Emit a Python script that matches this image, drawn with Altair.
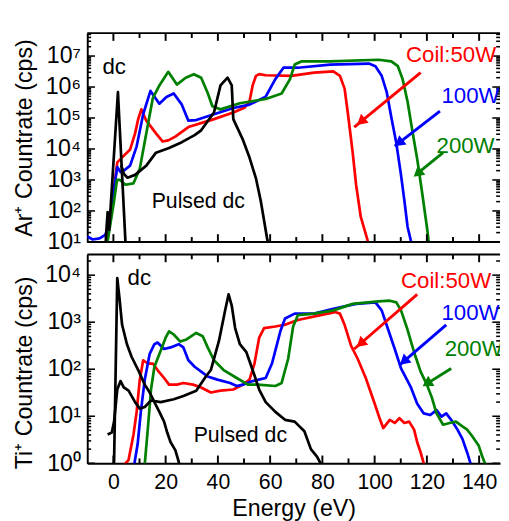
import math
import altair as alt
import pandas as pd

FONT = "Liberation Sans, Arial, Helvetica, sans-serif"
W = 427
H = 216
X_DOMAIN = [-10, 148]
AR_DOMAIN = [10, 5.5e7]
TI_DOMAIN = [1, 2.75e4]

RED, BLUE, GREEN, BLACK = "#ff0000", "#0000ff", "#008000", "#000000"

# ---------------- Ar+ panel data (energy eV, countrate cps) ----------------
ar_dc_e = [-3.0, -2.6, -2.2, -1.6, 1.74, 4.6, 4.9]
ar_dc_c = [8, 30, 92, 25, 6.8e5, 10.7, 8]

ar_pulsed_e = [3.0, 4.0, 5.4, 8.3, 12.6, 16.3, 21.3, 26.2, 31.1, 33.6, 38.5, 41.0, 43.7,
               45.3, 45.9, 49.6, 52.1, 54.6, 56.4, 58.9, 59.5]
ar_pulsed_c = [3.0e3, 1.57e3, 1.18e3, 1.46e3, 2.9e3, 7.6e3, 1.08e4, 1.66e4, 2.8e4, 4.0e4,
               1.5e5, 1.13e6, 2.0e6, 1.13e6, 9.2e4, 1.96e4, 5.3e3, 1.1e3, 212, 12, 8]

ar_red_e = [-2.6, -2.2, 1.48, 2.7, 6.4, 8.3, 9.5, 10.7, 12.6, 16.3, 18.8, 21.0, 23.7, 28.7,
            38.5, 45.9, 50.3, 52.1, 53.3, 54.6, 55.8, 58.3, 68.1, 76.8, 84.2, 86.7, 88.5,
            89.8, 91.6, 92.9, 94.7, 97.2, 97.6]
ar_red_c = [8, 12, 3.7e3, 4.7e3, 9.6e3, 3.2e4, 9.2e4, 1.9e5, 8.2e4, 3.2e4, 1.75e4, 1.9e4,
            2.5e4, 5.1e4, 9.2e4, 1.5e5, 2.2e5, 3.4e5, 1.13e6, 2.3e6, 2.6e6, 2.4e6, 2.3e6,
            2.9e6, 3.2e6, 2.3e6, 8.9e5, 1.32e5, 7.6e3, 700, 64, 12, 8]

ar_blue_e = [-10, -7.9, -5.3, -3.1, -1.96, 1.48, 2.7, 4.3, 6.4, 8.9, 11.4, 14.2, 17.6, 20.3,
             23.1, 26.2, 28.7, 31.7, 38.5, 45.9, 52.1, 58.3, 62.0, 65.1, 70.6, 83.0, 97.8,
             100.3, 102.7, 104.6, 106.4, 108.3, 110.1, 111.4, 112.6, 113.9, 114.3]
ar_blue_c = [15, 12, 13, 17, 29, 2.6e3, 1.8e3, 2.1e3, 2.9e3, 1.22e4, 1.32e5, 7.5e5, 2.9e5,
             4.8e5, 6.2e5, 2.7e5, 8.2e4, 8.6e4, 1.32e5, 2.1e5, 2.7e5, 4.9e5, 1.8e6, 4.2e6,
             4.2e6, 5.3e6, 5.7e6, 4.7e6, 2.3e6, 7.0e5, 1.04e5, 1.55e4, 1.43e3, 212, 31, 10.7, 8]

ar_green_e = [-2.6, -2.2, 0.26, 1.37, 2.5, 4.6, 7.7, 10.1, 12.6, 15.1, 17.6, 21.0, 24.3, 27.7,
              30.8, 33.6, 36.1, 37.9, 41.0, 48.4, 58.3, 64.4, 67.6, 69.4, 71.9, 82.9, 101.5,
              106.4, 108.9, 110.7, 112.6, 114.4, 116.3, 118.1, 120.0, 120.6, 121.0]
ar_green_c = [8, 10.7, 212, 1.0e3, 1.0e3, 700, 780, 2.3e3, 3.2e4, 4.4e5, 1.13e6, 3.1e6, 1.2e6,
              2.0e6, 2.6e6, 2.0e6, 6.4e5, 2.4e5, 1.9e5, 3.0e5, 4.1e5, 6.2e5, 1.8e6, 5.3e6,
              6.7e6, 6.7e6, 7.6e6, 6.7e6, 4.7e6, 1.8e6, 3.4e5, 4.0e4, 4.7e3, 434, 31, 12, 8]

# ---------------- Ti+ panel data ----------------
ti_dc_e = [-0.3, 0.26, 1.48, 2.37, 3.33, 5.19, 7.0, 9.5, 12.0, 13.9, 15.7, 17.6, 19.4, 20.6,
           21.9, 23.7, 25.0, 25.3]
ti_dc_c = [0.8, 1.08, 8.6e3, 3.1e3, 880, 340, 182, 96, 47, 32, 20, 12.4, 7.7, 4.5, 2.8, 1.9,
           1.08, 0.85]

ti_pulsed_e = [-2.2, -0.6, 0.26, 1.48, 2.74, 3.96, 5.81, 8.3, 10.1, 12.0, 14.4, 18.1, 23.1,
               26.8, 31.7, 35.4, 37.3, 40.4, 42.9, 44.1, 45.3, 46.6, 48.4, 50.9, 53.3, 55.8,
               58.3, 62.0, 65.7, 69.4, 73.1, 75.6, 78.0, 79.3, 79.6]
ti_pulsed_c = [4.1, 4.5, 7.7, 37, 56, 41, 35, 20, 14.5, 15.7, 21.6, 20, 23, 27, 35, 70, 96,
               400, 1.93e3, 3.9e3, 2.25e3, 750, 340, 230, 96, 37, 20, 12.4, 8.4, 7.7, 4.8,
               2.0, 1.37, 1.0, 0.85]

ti_red_e = [3.96, 5.8, 7.7, 8.9, 10.1, 11.4, 13.2, 15.1, 16.9, 19.4, 21.3, 24.3, 26.8, 30.5,
            33.6, 37.3, 41.0, 45.9, 49.6, 52.1, 54.0, 55.8, 57.7, 62.0, 65.7, 70.6, 79.3,
            84.8, 86.7, 88.5, 91.0, 93.5, 96.6, 99.6, 102.1, 103.3, 105.8, 107.7, 109.5,
            111.4, 113.2, 115.1, 116.3, 117.6, 118.8, 119.1]
ti_red_c = [0.92, 1.17, 4.1, 12.4, 60, 155, 132, 132, 96, 65, 47, 47, 51, 47, 41, 32, 35, 37,
            47, 60, 132, 467, 750, 810, 880, 1.11e3, 1.41e3, 1.64e3, 1.52e3, 880, 314, 167,
            65, 21.6, 8.4, 5.6, 8.4, 7.2, 9.1, 7.2, 7.7, 5.2, 2.8, 1.7, 1.0, 0.85]

ti_blue_e = [7.7, 8.0, 9.3, 10.5, 12.0, 13.9, 15.7, 16.9, 19.4, 21.9, 25.0, 26.8, 28.7, 31.1,
             33.6, 36.1, 39.8, 44.7, 47.2, 49.6, 53.3, 58.3, 60.7, 63.9, 65.7, 69.4, 76.8,
             84.2, 92.9, 100.3, 102.7, 105.2, 107.7, 110.1, 113.9, 116.3, 118.8, 121.3,
             123.7, 125.6, 127.4, 129.3, 131.7, 133.6, 135.4, 136.7, 136.9]
ti_blue_c = [0.85, 0.95, 2.6, 12.4, 60, 212, 340, 369, 269, 291, 340, 291, 155, 113, 89, 70,
             60, 51, 44, 47, 56, 65, 132, 640, 1.2e3, 1.52e3, 1.52e3, 1.93e3, 2.45e3, 2.64e3,
             1.78e3, 690, 269, 104, 41, 18.4, 11.5, 10.6, 13.5, 9.8, 11.5, 8.4, 5.2, 3.3, 1.7,
             1.0, 0.85]

ti_green_e = [11.7, 12.0, 13.2, 14.4, 15.7, 18.1, 20.0, 21.3, 23.1, 25.6, 28.0, 31.7, 34.2,
              36.1, 38.5, 42.2, 47.2, 51.5, 55.2, 62.0, 64.4, 66.9, 68.8, 70.6, 76.8, 84.2,
              91.6, 101.5, 105.8, 108.3, 110.1, 112.6, 115.1, 117.6, 120.0, 121.9, 123.7,
              126.2, 128.7, 131.1, 133.6, 135.4, 137.3, 139.8, 141.0, 142.2, 142.5]
ti_green_c = [0.85, 0.95, 5.6, 37, 113, 248, 467, 640, 547, 387, 430, 590, 504, 291, 155, 96,
              65, 47, 47, 44, 51, 167, 810, 1.41e3, 1.52e3, 1.78e3, 2.45e3, 2.77e3, 2.86e3,
              2.64e3, 1.78e3, 690, 230, 89, 47, 25, 11.5, 6.6, 7.2, 7.7, 6.1, 5.2, 3.8, 2.4,
              1.5, 1.0, 0.85]

# ---------------- annotations ----------------
ar_text = ["dc", "Pulsed dc", "Coil:50W", "100W", "200W"]
ar_text_e = [0.3, 32.5, 112.0, 125.6, 123.7]
ar_text_c = [4.2e6, 212, 1.09e7, 4.9e5, 1.22e4]
ti_text = ["dc", "Pulsed dc", "Coil:50W", "100W", "200W"]
ti_text_e = [9.9, 48.6, 110.1, 125.6, 126.8]
ti_text_c = [8.6e3, 3.9, 7.4e3, 1.52e3, 269]
text_colors = [BLACK, BLACK, RED, BLUE, GREEN]
text_align = ["center", "center", "left", "left", "left"]

arrow_colors = [RED, BLUE, GREEN]
ar_arrow_start_e = [117.6, 125.0, 126.2]
ar_arrow_start_c = [2.94e6, 1.67e5, 7.6e3]
ar_arrow_tip_e = [92.2, 107.7, 115.7]
ar_arrow_tip_c = [5.1e4, 1.23e4, 1.45e3]
ar_arrow_angle = [230, 232, 230]
ti_arrow_start_e = [116.3, 127.4, 129.3]
ti_arrow_start_c = [3.9e3, 876, 104]
ti_arrow_tip_e = [92.2, 109.5, 119.4]
ti_arrow_tip_c = [269, 122, 47]
ti_arrow_angle = [229, 229, 238]

x_major = [0, 20, 40, 60, 80, 100, 120, 140]
x_minor = [10, 30, 50, 70, 90, 110, 130]
ar_major = [1e1, 1e2, 1e3, 1e4, 1e5, 1e6, 1e7]
ti_major = [1e0, 1e1, 1e2, 1e3, 1e4]
multipliers = [2, 3, 4, 5, 6, 7, 8, 9]
sup_digits = ["⁰", "¹", "²", "³", "⁴", "⁵", "⁶", "⁷"]


def label_expr(majors):
    expr = "''"
    for v in majors:
        p = int(round(math.log10(v)))
        expr = "datum.value > %g && datum.value < %g ? '10%s' : (%s)" % (
            v * 0.9, v * 1.1, sup_digits[p], expr)
    return expr


def panel(series, ydomain, ymajor, ytitle, title_y, texts, arrows, angles, bottom):
    xs = alt.Scale(domain=X_DOMAIN, nice=False, zero=False)
    ys = alt.Scale(type="log", domain=ydomain, nice=False)
    yminor = [m * v for v in ymajor for m in multipliers if m * v <= ydomain[1]]

    if bottom:
        xaxis = alt.Axis(values=x_major, labelFontSize=22, labelPadding=9,
                         title="Energy (eV)", titlePadding=5)
    else:
        xaxis = None
    yaxis = alt.Axis(values=ymajor, labelExpr=label_expr(ymajor), labelFontSize=24,
                     labelPadding=7, title=ytitle, titlePadding=9, titleY=title_y)

    def X(f="e"):
        return alt.X(f + ":Q", scale=xs, axis=xaxis)

    def Y(f="c"):
        return alt.Y(f + ":Q", scale=ys, axis=yaxis)

    layers = []
    for e, c, col in series:
        df = pd.DataFrame({"e": e, "c": c})
        layers.append(
            alt.Chart(df).mark_line(color=col, strokeWidth=2.8, clip=True, strokeJoin="round")
            .encode(x=X(), y=Y())
        )

    # inward ticks on all four sides
    for vals, ln in ((x_major, 8), (x_minor, 5)):
        tdf = pd.DataFrame({"e": vals})
        layers.append(alt.Chart(tdf).mark_rule(color="black", strokeWidth=2)
                      .encode(x=X(), y=alt.value(0), y2=alt.value(ln)))
        layers.append(alt.Chart(tdf).mark_rule(color="black", strokeWidth=2)
                      .encode(x=X(), y=alt.value(H), y2=alt.value(H - ln)))
    for vals, ln in ((ymajor, 8), (yminor, 4)):
        tdf = pd.DataFrame({"c": vals})
        layers.append(alt.Chart(tdf).mark_rule(color="black", strokeWidth=1.6)
                      .encode(y=Y(), x=alt.value(0), x2=alt.value(ln)))
        layers.append(alt.Chart(tdf).mark_rule(color="black", strokeWidth=1.6)
                      .encode(y=Y(), x=alt.value(W), x2=alt.value(W - ln)))
    # top and bottom frame lines
    frame = pd.DataFrame({"a": [0]})
    layers.append(alt.Chart(frame).mark_rule(color="black", strokeWidth=2)
                  .encode(x=alt.value(0), x2=alt.value(W), y=alt.value(0)))
    if not bottom:
        layers.append(alt.Chart(frame).mark_rule(color="black", strokeWidth=2)
                      .encode(x=alt.value(0), x2=alt.value(W), y=alt.value(H)))

    # arrows
    se, sc, te, tc = arrows
    rows, heads = [], []
    for k in range(3):
        rows.append({"id": k, "o": 0, "e": se[k], "c": sc[k], "col": arrow_colors[k]})
        rows.append({"id": k, "o": 1, "e": te[k], "c": tc[k], "col": arrow_colors[k]})
        f = 0.12
        he = te[k] + f * (se[k] - te[k])
        hc = 10 ** (math.log10(tc[k]) + f * (math.log10(sc[k]) - math.log10(tc[k])))
        heads.append({"e": he, "c": hc, "col": arrow_colors[k], "ang": angles[k]})
    layers.append(alt.Chart(pd.DataFrame(rows)).mark_line(strokeWidth=3)
                  .encode(x=X(), y=Y(), detail="id:N", order="o:Q",
                          color=alt.Color("col:N", scale=None, legend=None)))
    layers.append(alt.Chart(pd.DataFrame(heads)).mark_point(shape="triangle", filled=True,
                                                            size=150, opacity=1, strokeWidth=0)
                  .encode(x=X(), y=Y(), angle=alt.Angle("ang:Q", scale=None),
                          color=alt.Color("col:N", scale=None, legend=None)))

    t, te_, tc_ = texts
    for k in range(len(t)):
        tdf = pd.DataFrame({"e": [te_[k]], "c": [tc_[k]], "t": [t[k]]})
        layers.append(alt.Chart(tdf).mark_text(align=text_align[k], baseline="middle",
                                               font=FONT, fontSize=23 if k != 1 else 22,
                                               color=text_colors[k], clip=True)
                      .encode(x=X(), y=Y(), text="t:N"))

    return alt.layer(*layers).properties(width=W, height=H)


top = panel(
    [(ar_red_e, ar_red_c, RED), (ar_blue_e, ar_blue_c, BLUE), (ar_green_e, ar_green_c, GREEN),
     (ar_pulsed_e, ar_pulsed_c, BLACK), (ar_dc_e, ar_dc_c, BLACK)],
    AR_DOMAIN, ar_major, "Ar⁺ Countrate (cps)", 108,
    (ar_text, ar_text_e, ar_text_c),
    (ar_arrow_start_e, ar_arrow_start_c, ar_arrow_tip_e, ar_arrow_tip_c), ar_arrow_angle,
    bottom=False,
)
bottom = panel(
    [(ti_red_e, ti_red_c, RED), (ti_blue_e, ti_blue_c, BLUE), (ti_green_e, ti_green_c, GREEN),
     (ti_pulsed_e, ti_pulsed_c, BLACK), (ti_dc_e, ti_dc_c, BLACK)],
    TI_DOMAIN, ti_major, "Ti⁺ Countrate (cps)", 122,
    (ti_text, ti_text_e, ti_text_c),
    (ti_arrow_start_e, ti_arrow_start_c, ti_arrow_tip_e, ti_arrow_tip_c), ti_arrow_angle,
    bottom=True,
)

chart = (
    alt.vconcat(top, bottom, spacing=0)
    .properties(padding={"left": 4, "top": 16, "right": 0, "bottom": 0}, background="white")
    .configure_view(strokeWidth=0)
    .configure_axis(ticks=False, grid=False, domain=True, domainColor="black", domainWidth=2,
                    labelFont=FONT, labelColor="black", labelFlush=False, labelOverlap=False,
                    titleFont=FONT, titleFontSize=24, titleFontWeight="normal",
                    titleColor="black")
)

chart.save("out.html", embed_options={"renderer": "svg", "actions": False})
